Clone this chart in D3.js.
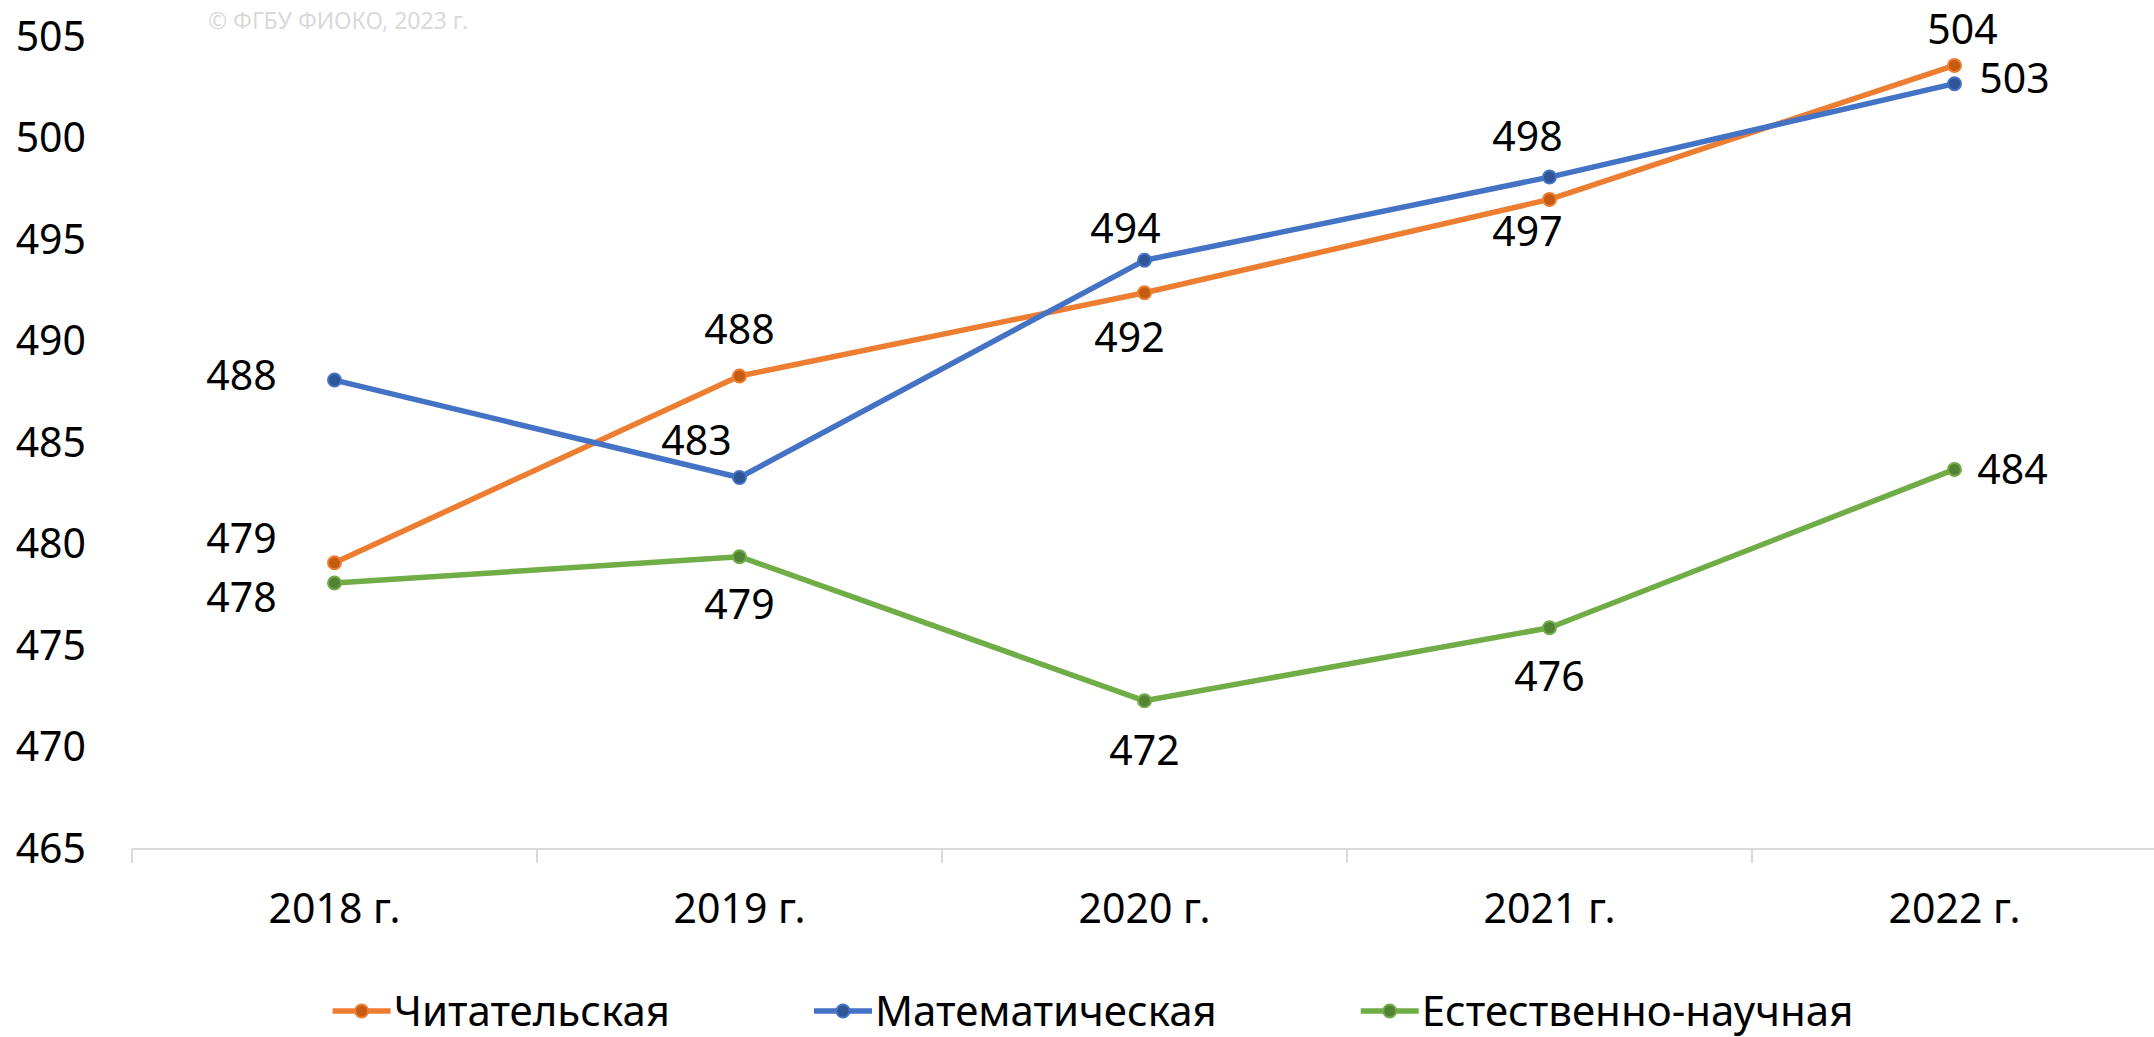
<!DOCTYPE html>
<html>
<head>
<meta charset="utf-8">
<script src="https://cdn.jsdelivr.net/npm/d3@7"></script>
<style>
  body { margin: 0; background: #fff; }
  svg { display: block; font-family: "Noto Sans", "Open Sans", sans-serif; }
</style>
</head>
<body>
<svg id="chart" width="2154" height="1037"></svg>
<script>
// data
const years = ["2018 г.", "2019 г.", "2020 г.", "2021 г.", "2022 г."];
const seriesNames = ["Читательская", "Математическая", "Естественно-научная"];
const reading = [479.1, 488.3, 492.4, 497.0, 503.6];
const maths = [488.1, 483.3, 494.0, 498.1, 502.7];
const science = [478.1, 479.4, 472.3, 475.9, 483.7];
const yTicks = [465, 470, 475, 480, 485, 490, 495, 500, 505];

// label offsets from each point (the original labels were dragged by hand)
const readingNudge = [[-93, -25], [0, -47], [-15, 44], [-22, 32], [8, -36]];
const mathsNudge = [[-93, -5], [-43, -37], [-19, -32], [-22, -41], [60, -5]];
const scienceNudge = [[-93, 14], [0, 48], [0, 49], [0, 49], [58, 0]];

const colors = ["#ed7d31", "#4472c4", "#70ad47"];
const darker = ["#c55a11", "#2f5597", "#548235"];

const series = [
  { name: seriesNames[0], values: reading, nudge: readingNudge },
  { name: seriesNames[1], values: maths, nudge: mathsNudge },
  { name: seriesNames[2], values: science, nudge: scienceNudge }
];

const svg = d3.select("#chart");
const FONT = 41;

const x = d3.scaleBand().domain(years).range([132, 2157]);
const y = d3.scaleLinear().domain([465, 505]).range([849, 37]);

// watermark
svg.append("text")
  .text("© ФГБУ ФИОКО, 2023 г.")
  .attr("x", 208).attr("y", 29)
  .attr("font-size", 23)
  .attr("fill", "#d9d9d9");

// y axis labels only
const yAxis = svg.append("g")
  .attr("transform", "translate(100,0)")
  .call(d3.axisLeft(y).tickValues(yTicks).tickSize(0).tickPadding(14));
yAxis.select(".domain").remove();
yAxis.selectAll("text").attr("font-size", FONT).attr("fill", "#000")
  .attr("font-family", "Noto Sans");

// category axis: line + boundary ticks
const bounds = years.map(d => x(d)).concat([x.range()[1]]);
svg.append("line")
  .attr("x1", x.range()[0]).attr("x2", x.range()[1])
  .attr("y1", y(465)).attr("y2", y(465))
  .attr("stroke", "#d9d9d9").attr("stroke-width", 2);
svg.selectAll(".btick").data(bounds).join("line")
  .attr("x1", d => d).attr("x2", d => d)
  .attr("y1", y(465)).attr("y2", y(465) + 14)
  .attr("stroke", "#d9d9d9").attr("stroke-width", 2);

const xAxis = svg.append("g")
  .attr("transform", `translate(0,${y(465)})`)
  .call(d3.axisBottom(x).tickSize(0).tickPadding(45));
xAxis.select(".domain").remove();
xAxis.selectAll("text").attr("font-size", FONT).attr("fill", "#000")
  .attr("font-family", "Noto Sans");

const line = d3.line()
  .x((d, i) => x(years[i]) + x.bandwidth() / 2)
  .y(d => y(d));

series.forEach((s, k) => {
  const g = svg.append("g");
  g.append("path")
    .datum(s.values)
    .attr("fill", "none")
    .attr("stroke", colors[k])
    .attr("stroke-width", 5.5)
    .attr("stroke-linejoin", "round")
    .attr("d", line);
  g.selectAll("circle").data(s.values).join("circle")
    .attr("cx", (d, i) => x(years[i]) + x.bandwidth() / 2)
    .attr("cy", d => y(d))
    .attr("r", 6.5)
    .attr("fill", darker[k])
    .attr("stroke", colors[k])
    .attr("stroke-width", 2);
  g.selectAll("text").data(s.values).join("text")
    .text(d => Math.round(d))
    .attr("x", (d, i) => x(years[i]) + x.bandwidth() / 2 + s.nudge[i][0])
    .attr("y", (d, i) => y(d) + s.nudge[i][1])
    .attr("dy", "0.36em")
    .attr("text-anchor", "middle")
    .attr("font-size", FONT)
    .attr("fill", "#000");
});

// legend, centred under the chart
const legend = svg.append("g").attr("transform", "translate(0,1011)");
const items = series.map((s, k) => {
  const it = legend.append("g");
  it.append("line")
    .attr("x1", 0).attr("x2", 58).attr("y1", 0).attr("y2", 0)
    .attr("stroke", colors[k]).attr("stroke-width", 5.5);
  it.append("circle")
    .attr("cx", 29).attr("cy", 0).attr("r", 6.5)
    .attr("fill", darker[k]).attr("stroke", colors[k]).attr("stroke-width", 2);
  const t = it.append("text")
    .text(s.name)
    .attr("x", 61).attr("dy", "0.36em")
    .attr("font-size", 42).attr("fill", "#000");
  return { g: it, w: 61 + t.node().getComputedTextLength() };
});
const gap = 144;
const total = d3.sum(items, d => d.w) + gap * (items.length - 1);
let cx = 1093 - total / 2;
items.forEach(d => {
  d.g.attr("transform", `translate(${cx},0)`);
  cx += d.w + gap;
});
</script>
</body>
</html>
